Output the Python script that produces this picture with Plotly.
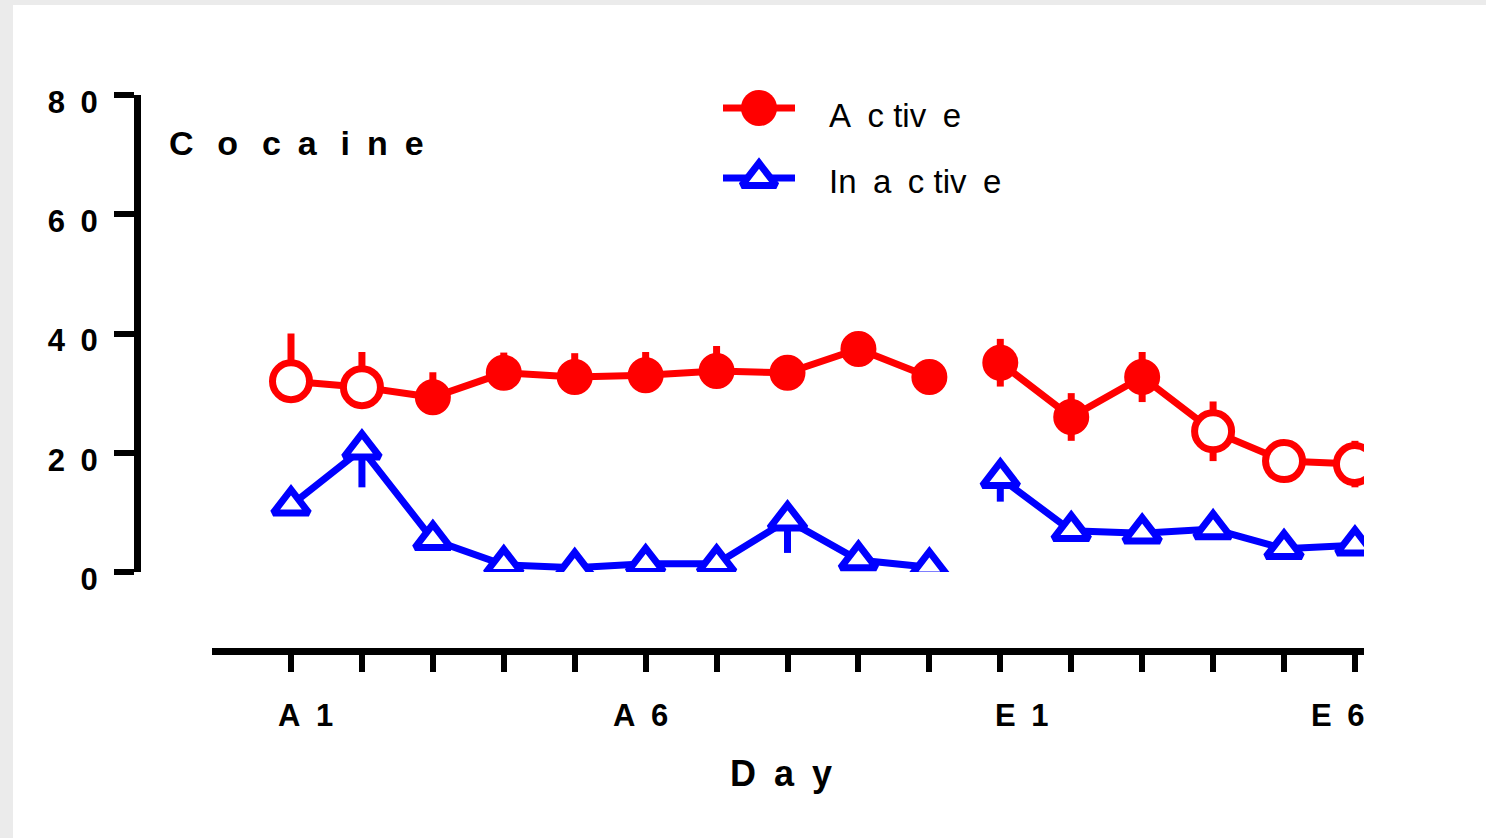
import plotly.graph_objects as go

# Sessions: acquisition A1-A10, extinction E1-E6
acq_days = ["A1", "A2", "A3", "A4", "A5", "A6", "A7", "A8", "A9", "A10"]
ext_days = ["E1", "E2", "E3", "E4", "E5", "E6"]

# Mean lever presses and SEM
active_acq = [32.0, 31.0, 29.3, 33.4, 32.7, 33.0, 33.7, 33.4, 37.4, 32.7]
active_acq_err = [8.0, 5.9, 4.2, 3.4, 4.0, 3.9, 4.2, 1.5, 1.5, 1.5]
active_ext = [35.1, 26.0, 32.7, 23.6, 18.6, 18.1]
active_ext_err = [4.0, 4.0, 4.2, 5.0, 1.5, 3.9]
# open symbol marks sessions flagged in the source figure
active_acq_open = [True, True, False, False, False, False, False, False, False, False]
active_ext_open = [False, False, False, True, True, True]

inactive_acq = [11.2, 20.6, 5.4, 1.2, 0.7, 1.4, 1.4, 8.7, 2.0, 0.8]
inactive_acq_err = [1.5, 6.4, 1.5, 0.5, 0.5, 0.5, 0.5, 5.5, 0.5, 0.5]
inactive_ext = [15.8, 6.9, 6.5, 7.2, 3.9, 4.5]
inactive_ext_err = [4.0, 1.5, 1.5, 1.5, 1.0, 1.0]

x_tick_labels = ["A\u20021", "A\u20026", "E\u20021", "E\u20026"]
x_tick_label_pos = [1.2, 5.93, 11.3, 15.75]
y_ticks = [0, 20, 40, 60, 80]
y_tick_text = ["0", "2\u20020", "4\u20020", "6\u20020", "8\u20020"]

RED = "#FF0000"
BLUE = "#0000FF"
W, H = 1486, 838
FONT = "Liberation Sans, Arial, sans-serif"
LW = 7

n_acq = len(acq_days)
n_ext = len(ext_days)
x_acq = list(range(1, n_acq + 1))
x_ext = list(range(n_acq + 1, n_acq + n_ext + 1))

fig = go.Figure()


def circle_style(open_flags):
    return dict(
        symbol="circle", opacity=1,
        size=[37 if o else 33 for o in open_flags],
        color=["white" if o else RED for o in open_flags],
        line=dict(color=RED, width=[7 if o else 3 for o in open_flags]),
    )


tri_style = dict(symbol="triangle-up", size=31, color="white", opacity=1,
                 line=dict(color=BLUE, width=7))

# Inactive lever (drawn first, below active)
fig.add_trace(go.Scatter(
    x=x_acq, y=inactive_acq, text=acq_days, mode="lines+markers",
    line=dict(color=BLUE, width=LW), marker=tri_style,
    error_y=dict(type="data", array=[0] * n_acq, arrayminus=inactive_acq_err,
                 symmetric=False, color=BLUE, thickness=LW, width=0),
    name="Inactive", showlegend=False))
fig.add_trace(go.Scatter(
    x=x_ext, y=inactive_ext, text=ext_days, mode="lines+markers",
    line=dict(color=BLUE, width=LW), marker=tri_style,
    error_y=dict(type="data", array=[0] * n_ext, arrayminus=inactive_ext_err,
                 symmetric=False, color=BLUE, thickness=LW, width=0),
    name="Inactive", showlegend=False))

# Active lever
fig.add_trace(go.Scatter(
    x=x_acq, y=active_acq, text=acq_days, mode="lines+markers",
    line=dict(color=RED, width=LW), marker=circle_style(active_acq_open),
    error_y=dict(type="data", array=active_acq_err, arrayminus=[0] * n_acq,
                 symmetric=False, color=RED, thickness=LW, width=0),
    name="Active", showlegend=False))
fig.add_trace(go.Scatter(
    x=x_ext, y=active_ext, text=ext_days, mode="lines+markers",
    line=dict(color=RED, width=LW), marker=circle_style(active_ext_open),
    error_y=dict(type="data", array=active_ext_err, color=RED,
                 thickness=LW, width=0),
    name="Active", showlegend=False))

# Legend keys on a pixel-scaled helper axis pair
key_x = [723, 795]
key_mid = 759
for yk, col, mk in [(108, RED, dict(symbol="circle", size=36, color=RED, opacity=1)),
                    (178, BLUE, dict(symbol="triangle-up", size=30, color="white", opacity=1,
                                     line=dict(color=BLUE, width=7)))]:
    fig.add_trace(go.Scatter(x=key_x, y=[yk, yk], mode="lines",
                             line=dict(color=col, width=LW), xaxis="x2", yaxis="y2",
                             showlegend=False, hoverinfo="skip", cliponaxis=False))
    fig.add_trace(go.Scatter(x=[key_mid], y=[yk], mode="markers", marker=mk,
                             xaxis="x2", yaxis="y2", showlegend=False,
                             hoverinfo="skip", cliponaxis=False))

# Axis geometry (pixels)
x_left, x_right = 212, 1364
x_first_px, x_step = 291, 70.93
y0_px, y80_px = 572, 95
xaxis_y_px = 651
yaxis_x_px = 137

x_range = [1 - (x_first_px - x_left) / x_step, 1 + (x_right - x_first_px) / x_step]

fig.update_layout(
    width=W, height=H,
    margin=dict(l=0, r=0, t=0, b=0, pad=0),
    paper_bgcolor="#EBEBEB",
    plot_bgcolor="rgba(0,0,0,0)",
    xaxis=dict(
        domain=[x_left / W, x_right / W], range=x_range, automargin=False,
        anchor="free", position=(H - xaxis_y_px) / H,
        showgrid=False, zeroline=False,
        showline=True, linecolor="black", linewidth=7,
        ticks="outside", ticklen=17, tickwidth=6, tickcolor="black",
        tickmode="array", tickvals=x_acq + x_ext,
        showticklabels=False,
    ),
    yaxis=dict(
        domain=[(H - y0_px) / H, (H - y80_px) / H], range=[0, 80], automargin=False,
        anchor="free", position=yaxis_x_px / W,
        showgrid=False, zeroline=False,
        showline=True, linecolor="black", linewidth=7,
        ticks="outside", ticklen=20, tickwidth=6, tickcolor="black",
        tickmode="array", tickvals=y_ticks, ticktext=y_tick_text,
        tickfont=dict(family=FONT, size=31, color="black", weight="bold"),
        ticklabelstandoff=10, ticklabelshift=7,
    ),
    xaxis2=dict(domain=[0, 1], range=[0, W], visible=False, automargin=False,
                anchor="y2"),
    yaxis2=dict(domain=[0, 1], range=[H, 0], visible=False, automargin=False,
                anchor="x2"),
    showlegend=False,
    shapes=[dict(type="rect", xref="paper", yref="paper",
                 x0=13 / W, x1=1, y0=0, y1=(H - 5) / H,
                 fillcolor="white", line=dict(width=0), layer="below")],
)

annotations = []
for lab, xp in zip(x_tick_labels, x_tick_label_pos):
    annotations.append(dict(text=lab, x=xp, xref="x", y=(H - 715) / H, yref="paper",
                            showarrow=False, xanchor="center", yanchor="middle",
                            font=dict(family=FONT, size=31, color="black", weight="bold")))
annotations.append(dict(text="D\u2002a\u2002y", x=781 / W, y=(H - 773) / H,
                        xref="paper", yref="paper", showarrow=False,
                        xanchor="center", yanchor="middle",
                        font=dict(family=FONT, size=36, color="black", weight="bold")))
annotations.append(dict(text="C\u2002\u2009o\u2002\u2009c\u2002a\u2002\u2009i\u2002n\u2002e",
                        x=167 / W, y=(H - 143) / H,
                        xref="paper", yref="paper", showarrow=False,
                        xanchor="left", yanchor="middle",
                        font=dict(family=FONT, size=34, color="black", weight="bold")))
for txt, yk in [("A\u2002c tiv\u2002e", 116), ("In\u2002a\u2002c tiv\u2002e", 182)]:
    annotations.append(dict(text=txt, x=827 / W, y=(H - yk) / H,
                            xref="paper", yref="paper", showarrow=False,
                            xanchor="left", yanchor="middle",
                            font=dict(family=FONT, size=33, color="black")))
fig.update_layout(annotations=annotations)

fig.write_html("out.html")
